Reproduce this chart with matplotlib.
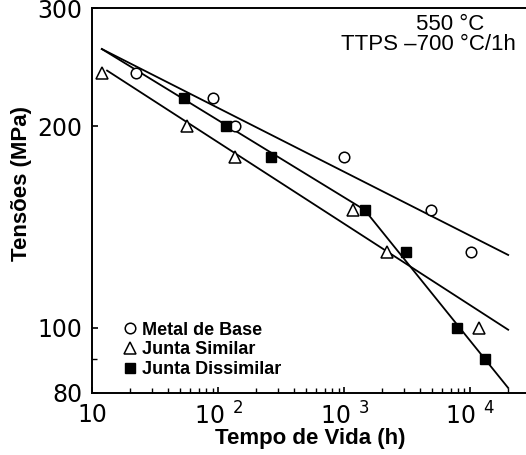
import matplotlib
matplotlib.use("Agg")
import matplotlib.pyplot as plt
from matplotlib.ticker import FixedLocator, FixedFormatter, NullFormatter

plt.rcParams['font.family'] = ['Liberation Sans', 'DejaVu Sans']
plt.rcParams['mathtext.default'] = 'regular'

# ---- data ----
metal_t = [22.4, 90, 136, 1000, 4900, 10200]
metal_s = [240, 220, 200, 180, 150, 130]

similar_t = [11.9, 56, 136, 1180, 2180, 11800]
similar_s = [240, 200, 180, 150, 130, 100]

dissim_t = [53, 116, 263, 1450, 3090, 7830, 13150]
dissim_s = [220, 200, 180, 150, 130, 100, 90]

# fitted lines
metal_line_t = [11.9, 20000]
metal_line_s = [260.6, 128.5]
similar_line_t = [13.1, 20000]
similar_line_s = [242, 99.4]
dissim_line_t = [11.9, 1450, 20000]
dissim_line_s = [260.6, 150, 81.4]

labels = ["Metal de Base", "Junta Similar", "Junta Dissimilar"]
xticks = [10, 100, 1000, 10000]
xticklabels = ["10", r"$\mathregular{10^{\ \,2}}$", r"$\mathregular{10^{\ \,3}}$", r"$\mathregular{10^{\ \,4}}$"]
yticks = [80, 100, 200, 300]
yticklabels = ["80", "100", "200", "300"]
yminor = [90]

fig = plt.figure(figsize=(5.26, 4.55), dpi=100)
ax = fig.add_axes([0.1755, 0.1363, 0.8245, 0.8461])
ax.set_xscale('log')
ax.set_yscale('log')

lw = 1.3
ax.plot(metal_line_t, metal_line_s, color='black', lw=lw, zorder=2)
ax.plot(similar_line_t, similar_line_s, color='black', lw=lw, zorder=2)
ax.plot(dissim_line_t, dissim_line_s, color='black', lw=lw, zorder=2)

h1, = ax.plot(metal_t, metal_s, ls='none', marker='o', ms=7.6, mfc='white', mec='black', mew=1.1, zorder=3, label=labels[0])
h2, = ax.plot(similar_t, similar_s, ls='none', marker='^', ms=8.0, mfc='white', mec='black', mew=1.1, zorder=3, label=labels[1])
h3, = ax.plot(dissim_t, dissim_s, ls='none', marker='s', ms=7.0, mfc='black', mec='black', mew=1.0, zorder=4, label=labels[2])

ax.set_xlim(10, 27700)
ax.set_ylim(80, 300)

ax.xaxis.set_major_locator(FixedLocator(xticks))
ax.xaxis.set_major_formatter(FixedFormatter(xticklabels))
xminor = [m * d for d in [10, 100, 1000] for m in range(2, 10)] + [20000]
ax.xaxis.set_minor_locator(FixedLocator(xminor))
ax.xaxis.set_minor_formatter(NullFormatter())

ax.yaxis.set_major_locator(FixedLocator(yticks))
ax.yaxis.set_major_formatter(FixedFormatter(yticklabels))
ax.yaxis.set_minor_locator(FixedLocator(yminor))
ax.yaxis.set_minor_formatter(NullFormatter())

ax.tick_params(axis='both', which='major', direction='in', length=4.5, width=1.2,
               labelsize=17, pad=7)
ax.tick_params(axis='both', which='minor', direction='in', length=3.5, width=1.0)
ax.tick_params(axis='x', which='both', top=False)
ax.tick_params(axis='y', which='both', right=False)
for lab in ax.get_yticklabels() + ax.get_xticklabels():
    lab.set_fontfamily('DejaVu Sans')

for side in ['left', 'bottom', 'top']:
    ax.spines[side].set_linewidth(1.4)
ax.spines['right'].set_visible(False)

ax.set_xlabel("Tempo de Vida (h)", fontsize=16, fontweight='bold')
ax.set_ylabel("Tensões (MPa)", fontsize=16, fontweight='bold')
ax.xaxis.set_label_coords(0.502, -0.092)
ax.yaxis.set_label_coords(-0.140, 0.543)

ax.text(0.825, 0.956, "550 °C", transform=ax.transAxes, ha='center', va='center', fontsize=16)
ax.text(0.776, 0.904, "TTPS –700 °C/1h", transform=ax.transAxes, ha='center', va='center', fontsize=16)

ax.legend(handles=[h1, h2, h3], loc='lower left', bbox_to_anchor=(0.055, 0.02),
          frameon=False, handlelength=0.7, handletextpad=0.35, labelspacing=0.15,
          borderaxespad=0, prop={'weight': 'bold', 'size': 13})

fig.savefig("out.png", dpi=100)
